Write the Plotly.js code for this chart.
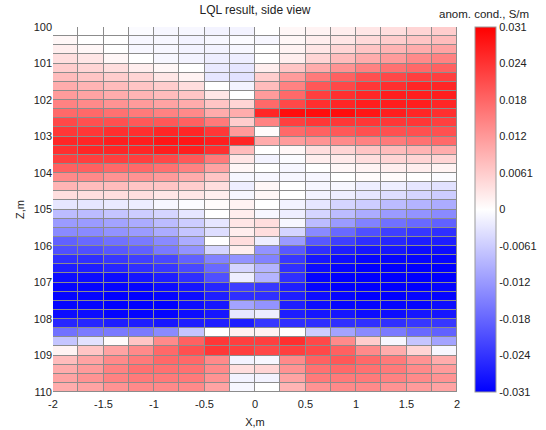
<!DOCTYPE html>
<html>
<head>
<meta charset="utf-8">
<script src="https://cdn.plot.ly/plotly-3.0.1.min.js"></script>
<style>html,body{margin:0;padding:0;background:#fff;}#chart{width:546px;height:430px;}</style>
</head>
<body>
<div id="chart"></div>
<script>
// Cell centres along X (m)
var xCenters = [-1.875, -1.625, -1.375, -1.125, -0.875, -0.625, -0.375, -0.125,
                 0.125,  0.375,  0.625,  0.875,  1.125,  1.375,  1.625,  1.875];
// Cell centres along Z (m), top to bottom
var zCenters = [100.125, 100.375, 100.625, 100.875, 101.125, 101.375, 101.625, 101.875,
                102.125, 102.375, 102.625, 102.875, 103.125, 103.375, 103.625, 103.875,
                104.125, 104.375, 104.625, 104.875, 105.125, 105.375, 105.625, 105.875,
                106.125, 106.375, 106.625, 106.875, 107.125, 107.375, 107.625, 107.875,
                108.125, 108.375, 108.625, 108.875, 109.125, 109.375, 109.625, 109.875];
// Anomalous conductivity, S/m (one row per Z cell, columns follow xCenters)
var anomCond = [
 [0.000, 0.000, 0.000,-0.0005,-0.001,-0.001,-0.0015,-0.0015, 0.000, 0.001, 0.0015, 0.002, 0.003, 0.004, 0.005, 0.006],
 [0.001, 0.000, 0.000,-0.001,-0.001,-0.0015,-0.001,-0.0005,-0.001, 0.001, 0.002, 0.003, 0.0045, 0.006, 0.007, 0.008],
 [0.002, 0.001, 0.000,-0.001,-0.001,-0.0015,-0.0015,-0.001, 0.000, 0.0015, 0.003, 0.005, 0.007, 0.009, 0.010, 0.011],
 [0.004, 0.003, 0.001, 0.000,-0.001,-0.0015,-0.002,-0.002, 0.000, 0.002, 0.005, 0.008, 0.010, 0.012, 0.014, 0.015],
 [0.006, 0.005, 0.004, 0.002, 0.001, 0.000,-0.0025,-0.003, 0.002, 0.007, 0.010, 0.013, 0.015, 0.017, 0.018, 0.019],
 [0.008, 0.007, 0.006, 0.005, 0.003, 0.0015,-0.003,-0.0035, 0.006, 0.012, 0.016, 0.019, 0.021, 0.022, 0.023, 0.023],
 [0.010, 0.009, 0.008, 0.007, 0.006, 0.004, 0.000,-0.0015, 0.008, 0.015, 0.020, 0.022, 0.024, 0.025, 0.026, 0.026],
 [0.012, 0.011, 0.010, 0.009, 0.008, 0.007, 0.003, 0.000, 0.012, 0.018, 0.023, 0.025, 0.026, 0.027, 0.027, 0.027],
 [0.015, 0.014, 0.013, 0.012, 0.011, 0.010, 0.007, 0.005, 0.018, 0.022, 0.025, 0.026, 0.027, 0.027, 0.027, 0.026],
 [0.018, 0.018, 0.017, 0.016, 0.015, 0.014, 0.010, 0.010, 0.026, 0.029, 0.029, 0.029, 0.028, 0.027, 0.026, 0.025],
 [0.022, 0.021, 0.021, 0.020, 0.020, 0.019, 0.016, 0.006, 0.015, 0.023, 0.024, 0.024, 0.024, 0.024, 0.024, 0.023],
 [0.024, 0.024, 0.025, 0.025, 0.026, 0.026, 0.024, 0.012, 0.0005, 0.018, 0.019, 0.020, 0.021, 0.021, 0.021, 0.021],
 [0.026, 0.026, 0.027, 0.027, 0.028, 0.028, 0.027, 0.026, 0.010, 0.012, 0.013, 0.014, 0.015, 0.016, 0.017, 0.018],
 [0.025, 0.026, 0.026, 0.026, 0.027, 0.027, 0.025, 0.008, 0.000, 0.001, 0.004, 0.005, 0.007, 0.008, 0.009, 0.010],
 [0.023, 0.023, 0.023, 0.023, 0.022, 0.020, 0.016, 0.003,-0.0015,-0.0005, 0.002, 0.0025, 0.004, 0.005, 0.005, 0.005],
 [0.019, 0.019, 0.018, 0.018, 0.017, 0.015, 0.011, 0.001, 0.000,-0.001, 0.000, 0.001, 0.0015, 0.002, 0.002, 0.0015],
 [0.014, 0.014, 0.013, 0.013, 0.012, 0.010, 0.007,-0.001,-0.001,-0.001,-0.001, 0.000, 0.0005, 0.0005, 0.000,-0.0005],
 [0.009, 0.008, 0.008, 0.007, 0.007, 0.006, 0.004,-0.002, 0.001, 0.000,-0.001,-0.001,-0.002,-0.002,-0.003,-0.0035],
 [0.004, 0.004, 0.004, 0.004, 0.003, 0.003, 0.002,-0.001, 0.001, 0.000,-0.0015,-0.002,-0.003,-0.004,-0.005,-0.006],
 [-0.003,-0.003,-0.0025,-0.002,-0.001,-0.0005, 0.0005, 0.0015, 0.000,-0.0015,-0.003,-0.005,-0.006,-0.008,-0.009,-0.010],
 [-0.008,-0.008,-0.007,-0.006,-0.005,-0.003, 0.000, 0.002,-0.001,-0.002,-0.005,-0.008,-0.010,-0.012,-0.013,-0.014],
 [-0.012,-0.012,-0.011,-0.010,-0.008,-0.006,-0.003, 0.003, 0.004,-0.001,-0.008,-0.012,-0.015,-0.017,-0.018,-0.019],
 [-0.014,-0.014,-0.013,-0.012,-0.010,-0.007,-0.004, 0.002, 0.004,-0.005,-0.014,-0.018,-0.021,-0.023,-0.024,-0.025],
 [-0.019,-0.018,-0.017,-0.016,-0.014,-0.010, 0.000, 0.004,-0.002,-0.012,-0.020,-0.023,-0.025,-0.026,-0.027,-0.027],
 [-0.021,-0.021,-0.020,-0.019,-0.016,-0.013,-0.005, 0.002,-0.013,-0.020,-0.025,-0.027,-0.028,-0.028,-0.029,-0.029],
 [-0.025,-0.025,-0.024,-0.023,-0.022,-0.019,-0.015,-0.013,-0.015,-0.024,-0.028,-0.029,-0.030,-0.030,-0.030,-0.030],
 [-0.027,-0.027,-0.026,-0.025,-0.024,-0.022,-0.018,-0.005,-0.009,-0.025,-0.029,-0.030,-0.031,-0.031,-0.031,-0.031],
 [-0.029,-0.029,-0.029,-0.028,-0.027,-0.025,-0.021,-0.002,-0.009,-0.025,-0.030,-0.031,-0.031,-0.031,-0.031,-0.031],
 [-0.030,-0.030,-0.030,-0.030,-0.029,-0.028,-0.026,-0.023,-0.024,-0.027,-0.030,-0.031,-0.031,-0.031,-0.031,-0.030],
 [-0.030,-0.030,-0.031,-0.031,-0.030,-0.029,-0.027,-0.025,-0.025,-0.027,-0.029,-0.030,-0.031,-0.031,-0.030,-0.030],
 [-0.030,-0.030,-0.031,-0.031,-0.031,-0.029,-0.028,-0.011,-0.013,-0.027,-0.029,-0.030,-0.030,-0.030,-0.030,-0.029],
 [-0.029,-0.029,-0.030,-0.030,-0.030,-0.029,-0.028,-0.003,-0.002,-0.027,-0.028,-0.028,-0.029,-0.029,-0.028,-0.028],
 [-0.026,-0.026,-0.027,-0.027,-0.028,-0.027,-0.027,-0.027,-0.024,-0.025,-0.025,-0.025,-0.025,-0.025,-0.024,-0.024],
 [-0.017,-0.016,-0.016,-0.016,-0.014,-0.007, 0.000, 0.0015, 0.0015, 0.000,-0.006,-0.011,-0.014,-0.016,-0.018,-0.019],
 [-0.007,-0.0035, 0.0005, 0.007, 0.014, 0.019, 0.024, 0.023, 0.023, 0.025, 0.022, 0.014, 0.006,-0.001,-0.007,-0.011],
 [0.0015, 0.007, 0.011, 0.014, 0.018, 0.021, 0.024, 0.023, 0.022, 0.023, 0.022, 0.019, 0.014, 0.010, 0.005,-0.001],
 [0.008, 0.011, 0.014, 0.016, 0.018, 0.018, 0.014,-0.0015,-0.001, 0.014, 0.019, 0.020, 0.018, 0.016, 0.013, 0.010],
 [0.010, 0.012, 0.015, 0.017, 0.017, 0.017, 0.014, 0.004, 0.005, 0.013, 0.017, 0.018, 0.017, 0.016, 0.014, 0.012],
 [0.011, 0.013, 0.015, 0.016, 0.016, 0.016, 0.013,-0.0015,-0.0015, 0.011, 0.016, 0.016, 0.016, 0.015, 0.014, 0.013],
 [0.010, 0.011, 0.013, 0.014, 0.014, 0.014, 0.011,-0.001, 0.000, 0.009, 0.013, 0.014, 0.014, 0.013, 0.012, 0.011]
];
var xTickVals = [-2, -1.5, -1, -0.5, 0, 0.5, 1, 1.5, 2];
var xTickText = ['-2', '-1.5', '-1', '-0.5', '0', '0.5', '1', '1.5', '2'];
var zTickVals = [100, 101, 102, 103, 104, 105, 106, 107, 108, 109, 110];
var cbTickVals = [-0.0306, -0.02448, -0.01836, -0.01224, -0.00612, 0, 0.00612, 0.01224, 0.01836, 0.02448, 0.0306];
var cbTickText = ['-0.031', '-0.024', '-0.018', '-0.012', '-0.0061', '0', '0.0061', '0.012', '0.018', '0.024', '0.031'];

var font = 'Liberation Sans, Arial, Helvetica, sans-serif';

var trace = {
  type: 'heatmap',
  x: xCenters,
  y: zCenters,
  z: anomCond,
  zmin: -0.0306,
  zmax: 0.0306,
  xgap: 1,
  ygap: 1,
  colorscale: [[0, 'rgb(0,0,255)'], [0.5, 'rgb(255,255,255)'], [1, 'rgb(255,0,0)']],
  hoverinfo: 'x+y+z',
  colorbar: {
    x: 1.044, xanchor: 'left', xpad: 0,
    y: 0.5, yanchor: 'middle', ypad: 0,
    len: 1, lenmode: 'fraction',
    thickness: 21, thicknessmode: 'pixels',
    outlinewidth: 1, outlinecolor: '#9a9a9a',
    tickmode: 'array', tickvals: cbTickVals, ticktext: cbTickText,
    ticks: '', ticklabelpad: 3,
    tickfont: {family: font, size: 11, color: '#222'}
  }
};

var layout = {
  width: 546, height: 430,
  margin: {l: 53, r: 86, t: 27, b: 38},
  paper_bgcolor: '#ffffff',
  plot_bgcolor: '#8c8c8c',
  font: {family: font, size: 11, color: '#222'},
  title: {text: 'LQL result, side view', font: {family: font, size: 12, color: '#222'},
          xref: 'paper', x: 0.5, xanchor: 'center', yref: 'container', y: 0.977, yanchor: 'middle'},
  xaxis: {range: [-2, 2], tickmode: 'array', tickvals: xTickVals, ticktext: xTickText,
          showgrid: false, zeroline: false, showline: false, ticks: '', ticklabelstandoff: 4,
          tickfont: {family: font, size: 11, color: '#222'},
          title: {text: 'X,m', font: {family: font, size: 11, color: '#222'}, standoff: 9}},
  yaxis: {range: [110, 100], tickmode: 'array', tickvals: zTickVals,
          showgrid: false, zeroline: false, showline: false, ticks: '',
          tickfont: {family: font, size: 11, color: '#222'},
          title: {text: 'Z,m', font: {family: font, size: 11, color: '#222'}, standoff: 6}},
  annotations: [{text: 'anom. cond., S/m', xref: 'paper', yref: 'paper', x: 1.182, y: 1.036,
                 xanchor: 'right', yanchor: 'middle', showarrow: false,
                 font: {family: font, size: 11.5, color: '#222'}}]
};

Plotly.newPlot('chart', [trace], layout, {displayModeBar: false, staticPlot: true});
</script>
</body>
</html>
